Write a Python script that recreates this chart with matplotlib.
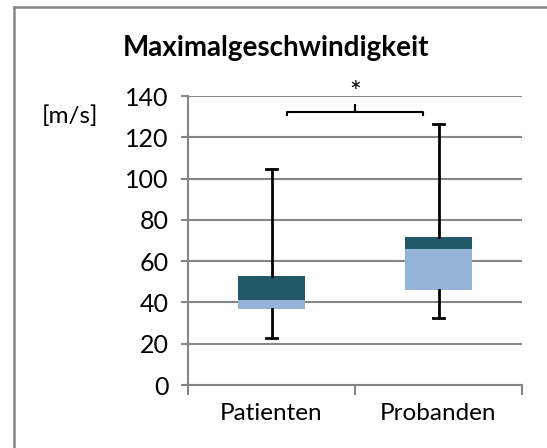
import matplotlib.pyplot as plt
from matplotlib.lines import Line2D

plt.rcParams['font.family'] = ['Lato', 'DejaVu Sans']

groups = ['Patienten', 'Probanden']
whisker_min = [22.6, 32.6]
q1 = [36.6, 46.0]
median = [41.0, 65.9]
q3 = [52.9, 71.7]
whisker_max = [104.6, 126.5]
y_ticks = [0, 20, 40, 60, 80, 100, 120, 140]

light = '#95b3d7'
dark = '#215968'
grey = '#868686'

fig = plt.figure(figsize=(5.47, 4.48), dpi=100)
ax = fig.add_axes([188/547, 63/448, 334/547, 289/448])

x = [0, 1]
lower = [m - a for m, a in zip(median, q1)]
upper = [b - m for b, m in zip(q3, median)]
ax.bar(x, lower, bottom=q1, width=0.4, color=light, zorder=3)
ax.bar(x, upper, bottom=median, width=0.4, color=dark, zorder=3)

# whiskers with end caps
for i in x:
    ax.plot([i, i], [whisker_min[i], q1[i]], color='black', lw=2, zorder=4)
    ax.plot([i, i], [q3[i], whisker_max[i]], color='black', lw=2, zorder=4)
    for v in (whisker_min[i], whisker_max[i]):
        ax.plot([i - 0.035, i + 0.035], [v, v], color='black', lw=2, zorder=4)

# significance bracket
bx = [0.093, 0.093, 0.5, 0.5, 0.5, 0.907, 0.907]
by = [130.8, 132.3, 132.3, 135.6, 132.3, 132.3, 130.8]
ax.plot(bx, by, color='black', lw=1.5, clip_on=False, zorder=4)
ax.text(0.5, 141.0, '*', ha='center', va='center', fontsize=20, clip_on=False)

ax.set_xlim(-0.5, 1.5)
ax.set_ylim(0, 140)
ax.set_yticks(y_ticks)
ax.set_yticklabels([str(t) for t in y_ticks], fontsize=18)
ax.yaxis.grid(True, color=grey, lw=1.5, zorder=0)
ax.set_axisbelow(True)

ax.set_xticks([-0.5, 0.5, 1.5])
ax.set_xticklabels([])
ax.set_xticks([0, 1], minor=True)
ax.set_xticklabels(groups, minor=True, fontsize=17.5)
ax.tick_params(axis='x', which='minor', length=0, pad=13)
ax.tick_params(axis='x', which='major', length=7, color=grey, width=1.5)
ax.tick_params(axis='y', length=5, color=grey, width=1.5, pad=9)

for s in ('top', 'right'):
    ax.spines[s].set_visible(False)
for s in ('left', 'bottom'):
    ax.spines[s].set_color(grey)
    ax.spines[s].set_linewidth(1.5)

fig.text(276/547, 1 - 48/448, 'Maximalgeschwindigkeit', ha='center', va='center',
         fontsize=20, fontweight='bold')
fig.text(70/547, 1 - 116/448, '[m/s]', ha='center', va='center', fontsize=17.5)

# chart frame
fig.add_artist(Line2D([14/547, 14/547], [0, 1 - 7/448], color=grey, lw=1.8))
fig.add_artist(Line2D([14/547, 1], [1 - 7/448, 1 - 7/448], color=grey, lw=1.8))

fig.savefig('out.png')
